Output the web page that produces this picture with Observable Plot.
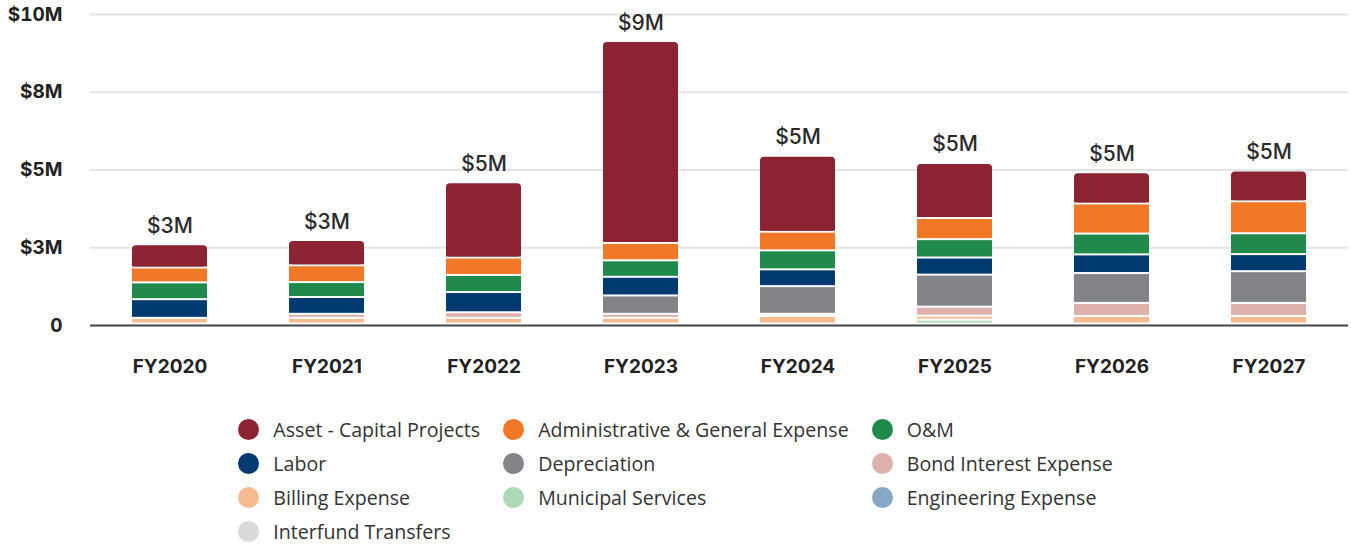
<!DOCTYPE html>
<html>
<head>
<meta charset="utf-8">
<script src="https://cdn.jsdelivr.net/npm/d3@7"></script>
<script src="https://cdn.jsdelivr.net/npm/@observablehq/plot@0.6"></script>
<style>
  html, body { margin: 0; padding: 0; background: #fff; overflow: hidden; }
  #chart { width: 1351px; }
  .legend {
    display: grid;
    grid-template-columns: repeat(3, auto);
    column-gap: 23px;
    row-gap: 0;
    justify-content: center;
    margin-top: 23px;
    font-family: "Open Sans", sans-serif;
    font-size: 19.6px;
    color: #333;
  }
  .legend .item { display: flex; align-items: center; height: 33.8px; white-space: nowrap; }
  .legend .sw { width: 21px; height: 21px; border-radius: 50%; margin-right: 14px; flex: none; }
</style>
</head>
<body>
<div id="chart"></div>
<script>
// ---- data (values in $ millions) ----
const years = ["FY2020", "FY2021", "FY2022", "FY2023", "FY2024", "FY2025", "FY2026", "FY2027"];
const interfundTransfers = [0, 0, 0, 0, 0, 0, 0, 0];
const engineeringExpense = [0, 0, 0, 0, 0, 0, 0, 0];
const municipalServices = [0, 0, 0, 0, 0, 0.17, 0, 0];
const billingExpense = [0.23, 0.23, 0.23, 0.23, 0.29, 0.13, 0.29, 0.29];
const bondInterest = [0, 0.13, 0.18, 0.13, 0.07, 0.29, 0.42, 0.42];
const depreciation = [0, 0, 0, 0.59, 0.89, 1.03, 0.96, 1.02];
const labor = [0.60, 0.54, 0.65, 0.60, 0.54, 0.55, 0.60, 0.55];
const oAndM = [0.54, 0.48, 0.55, 0.53, 0.61, 0.59, 0.67, 0.67];
const adminGeneral = [0.48, 0.54, 0.56, 0.56, 0.60, 0.68, 0.97, 1.03];
const assetCapital = [0.75, 0.81, 2.42, 6.49, 2.44, 1.77, 1.00, 0.99];

const yTicks = [0, 2.5e6, 5e6, 7.5e6, 10e6];

// legend order (as shown) and colors
const legendNames = ["Asset - Capital Projects", "Administrative & General Expense", "O&M",
  "Labor", "Depreciation", "Bond Interest Expense",
  "Billing Expense", "Municipal Services", "Engineering Expense",
  "Interfund Transfers"];
const legendColors = ["#8B2332", "#F07826", "#20894C",
  "#003A70", "#838487", "#DFB1AC",
  "#F6BB8E", "#ADD9B7", "#87A8C4",
  "#D9D9D9"];

// stack order, bottom to top
const stackSeries = [
  ["Interfund Transfers", interfundTransfers],
  ["Engineering Expense", engineeringExpense],
  ["Municipal Services", municipalServices],
  ["Billing Expense", billingExpense],
  ["Bond Interest Expense", bondInterest],
  ["Depreciation", depreciation],
  ["Labor", labor],
  ["O&M", oAndM],
  ["Administrative & General Expense", adminGeneral],
  ["Asset - Capital Projects", assetCapital]
];

// build table
const rows = [];
const totals = [];
years.forEach((yr, i) => {
  let acc = 0;
  stackSeries.forEach(([name, vals]) => {
    const v = vals[i] * 1e6;
    if (v > 0) {
      rows.push({year: yr, series: name, y1: acc, y2: acc + v});
      acc += v;
    }
  });
  totals.push({year: yr, total: acc});
});
const assetRows = rows.filter(d => d.series === "Asset - Capital Projects");
const otherRows = rows.filter(d => d.series !== "Asset - Capital Projects");

const fmtS = d3.format("$.1s");
const tickFmt = d => d === 0 ? "0" : fmtS(d);

const colorScale = {domain: legendNames, range: legendColors};

const plot = Plot.plot({
  width: 1351,
  height: 390,
  marginLeft: 90,
  marginRight: 3,
  marginTop: 14,
  marginBottom: 65,
  style: {fontFamily: "Inter, sans-serif", background: "#fff"},
  x: {domain: years, paddingInner: 0.52, paddingOuter: 0.264, label: null},
  y: {domain: [0, 10e6], label: null},
  color: colorScale,
  marks: [
    Plot.gridY(yTicks, {stroke: "#e4e4e4", strokeOpacity: 1, strokeWidth: 2}),
    Plot.barY(otherRows, {x: "year", y1: "y1", y2: "y2", fill: "series", insetTop: 1, insetBottom: 1}),
    Plot.barY(assetRows, {x: "year", y1: "y1", y2: "y2", fill: "series", insetTop: 1, insetBottom: 1, rx: 4}),
    Plot.barY(assetRows, {x: "year", y1: "y1", y2: d => (d.y1 + d.y2) / 2, fill: "series", insetBottom: 1}),
    Plot.ruleY([0], {stroke: "#fff", strokeWidth: 6}),
    Plot.ruleY([0], {stroke: "#444", strokeWidth: 2}),
    Plot.axisY(yTicks, {tickSize: 0, tickPadding: 28, tickFormat: tickFmt, fontSize: 19, fontWeight: 700, fill: "#222", label: null}),
    Plot.axisX({tickSize: 0, tickPadding: 34, fontSize: 19, fontWeight: 700, fill: "#222", label: null}),
    Plot.text(totals, {x: "year", y: "total", text: d => fmtS(d.total), lineAnchor: "bottom", dy: -12, fontSize: 21, fontWeight: 500, fill: "#2b2b2b"})
  ]
});
document.getElementById("chart").appendChild(plot);

// legend
const leg = document.createElement("div");
leg.className = "legend";
legendNames.forEach((name, i) => {
  const it = document.createElement("div");
  it.className = "item";
  const sw = document.createElement("span");
  sw.className = "sw";
  sw.style.background = legendColors[i];
  const tx = document.createElement("span");
  tx.textContent = name;
  it.appendChild(sw);
  it.appendChild(tx);
  leg.appendChild(it);
});
document.getElementById("chart").appendChild(leg);
</script>
</body>
</html>
